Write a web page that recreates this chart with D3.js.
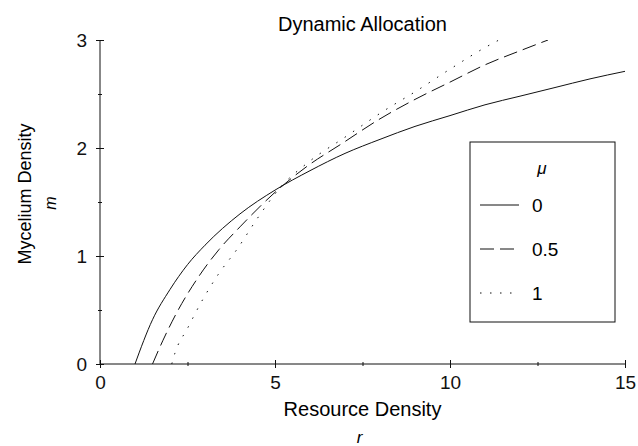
<!DOCTYPE html>
<html>
<head>
<meta charset="utf-8">
<script src="https://cdn.jsdelivr.net/npm/d3@7"></script>
<style>
  body { margin: 0; background: #fff; }
  svg { font-family: "Liberation Sans", Arial, sans-serif; }
  .axis .domain, .axis line { stroke: #111; stroke-width: 1; }
  .axis text { font-size: 19px; fill: #111; }
</style>
</head>
<body>
<svg width="638" height="446"></svg>
<script>
"use strict";

// series labels (mu) and readings of each curve off the picture
var muLabels = ["0", "0.5", "1"];

var rSolid = [1.0, 1.5, 2.0, 2.5, 3.0, 4.0, 5.0, 6.0, 7.0, 8.0, 9.0, 10.0, 11.0, 12.0, 13.0, 14.0, 15.0];
var mSolid = [0.0, 0.41, 0.69, 0.92, 1.10, 1.39, 1.61, 1.79, 1.95, 2.08, 2.20, 2.30, 2.40, 2.48, 2.56, 2.64, 2.71];

var rDashed = [1.5, 1.8, 2.2, 2.8, 3.4, 4.0, 5.14, 6.0, 6.86, 8.0, 9.0, 10.0, 11.0, 12.0, 12.8];
var mDashed = [0.0, 0.22, 0.48, 0.80, 1.06, 1.27, 1.63, 1.85, 2.03, 2.27, 2.45, 2.61, 2.77, 2.90, 3.0];

var rDotted = [2.05, 2.14, 2.5, 2.94, 3.4, 3.91, 4.5, 5.14, 6.0, 7.0, 8.14, 9.0, 10.0, 11.0, 11.4];
var mDotted = [0.0, 0.10, 0.33, 0.60, 0.84, 1.06, 1.35, 1.63, 1.88, 2.10, 2.35, 2.52, 2.73, 2.93, 3.0];

var xMajor = [0, 5, 10, 15];
var xMinor = [2.5, 7.5, 12.5];
var yMajor = [0, 1, 2, 3];
var yMinor = [0.5, 1.5, 2.5];

// layout
var margin = { top: 40, right: 13, bottom: 82, left: 100 };
var width = 638 - margin.left - margin.right;
var height = 446 - margin.top - margin.bottom;

var x = d3.scaleLinear().domain([0, 15]).range([0, width]);
var y = d3.scaleLinear().domain([0, 3]).range([height, 0]);

var svg = d3.select("svg");
var chart = svg.append("g").attr("transform", "translate(" + margin.left + "," + margin.top + ")");

// clip so curves stop at top of plot
svg.append("defs").append("clipPath").attr("id", "plotClip")
  .append("rect").attr("x", 0).attr("y", 0).attr("width", width).attr("height", height);

// x axis, ticks crossing the line
var xAxis = d3.axisBottom(x).tickValues(xMajor).tickFormat(d3.format("d")).tickSize(4).tickPadding(8);
var gx = chart.append("g").attr("class", "x axis").attr("transform", "translate(0," + height + ")").call(xAxis);
gx.select(".domain").attr("d", "M0,0H" + width);
gx.selectAll(".tick line").attr("y1", -4).attr("y2", 4);

var xAxisMinor = d3.axisBottom(x).tickValues(xMinor).tickSize(2).tickFormat("");
var gxm = chart.append("g").attr("class", "x axis minor").attr("transform", "translate(0," + height + ")").call(xAxisMinor);
gxm.select(".domain").remove();
gxm.selectAll(".tick line").attr("y1", -2).attr("y2", 2);

// y axis
var yAxis = d3.axisLeft(y).tickValues(yMajor).tickFormat(d3.format("d")).tickSize(4).tickPadding(9);
var gy = chart.append("g").attr("class", "y axis").call(yAxis);
gy.select(".domain").attr("d", "M0," + height + "V0");
gy.selectAll(".tick line").attr("x1", 4).attr("x2", -4);

var yAxisMinor = d3.axisLeft(y).tickValues(yMinor).tickSize(2).tickFormat("");
var gym = chart.append("g").attr("class", "y axis minor").call(yAxisMinor);
gym.select(".domain").remove();
gym.selectAll(".tick line").attr("x1", 2).attr("x2", -2);

// curves
var series = [
  { r: rSolid, m: mSolid, dash: null },
  { r: rDashed, m: mDashed, dash: "14,6" },
  { r: rDotted, m: mDotted, dash: "1.5,8.5" }
];

var line = d3.line()
  .x(function (d) { return x(d[0]); })
  .y(function (d) { return y(d[1]); })
  .curve(d3.curveMonotoneX);

chart.append("g").attr("clip-path", "url(#plotClip)")
  .selectAll(".curve").data(series).enter().append("path")
  .attr("class", "curve")
  .attr("d", function (s) { return line(s.r.map(function (r, i) { return [r, s.m[i]]; })); })
  .attr("fill", "none")
  .attr("stroke", "#111")
  .attr("stroke-width", 1)
  .attr("stroke-dasharray", function (s) { return s.dash; });

// titles
svg.append("text").attr("x", margin.left + width / 2).attr("y", 31)
  .attr("text-anchor", "middle").style("font-size", "20px").text("Dynamic Allocation");

svg.append("text").attr("x", margin.left + width / 2).attr("y", 416)
  .attr("text-anchor", "middle").style("font-size", "20px").text("Resource Density");
svg.append("text").attr("x", margin.left + width / 2 - 3).attr("y", 443)
  .attr("text-anchor", "middle").style("font-size", "17px").style("font-style", "italic").text("r");

svg.append("text").attr("transform", "translate(31," + (margin.top + 154) + ") rotate(-90)")
  .attr("text-anchor", "middle").style("font-size", "18px").text("Mycelium Density");
svg.append("text").attr("transform", "translate(56," + (margin.top + 163) + ") rotate(-90)")
  .attr("text-anchor", "middle").style("font-size", "16px").style("font-style", "italic").text("m");

// legend box
var legend = svg.append("g").attr("class", "legend").attr("transform", "translate(470,142)");
legend.append("rect").attr("width", 145).attr("height", 180)
  .attr("fill", "#fff").attr("stroke", "#111").attr("stroke-width", 1);
legend.append("text").attr("x", 72).attr("y", 32).attr("text-anchor", "middle")
  .style("font-size", "17px").style("font-style", "italic").text("\u03bc");

var entry = legend.selectAll(".entry").data(series).enter().append("g")
  .attr("class", "entry")
  .attr("transform", function (d, i) { return "translate(0," + (63 + i * 44) + ")"; });
entry.append("line").attr("x1", 10).attr("x2", 49).attr("y1", 0).attr("y2", 0)
  .attr("stroke", "#111").attr("stroke-width", 1)
  .attr("stroke-dasharray", function (s) { return s.dash; });
entry.append("text").attr("x", 62).attr("y", 7)
  .style("font-size", "19px").text(function (d, i) { return muLabels[i]; });
</script>
</body>
</html>
